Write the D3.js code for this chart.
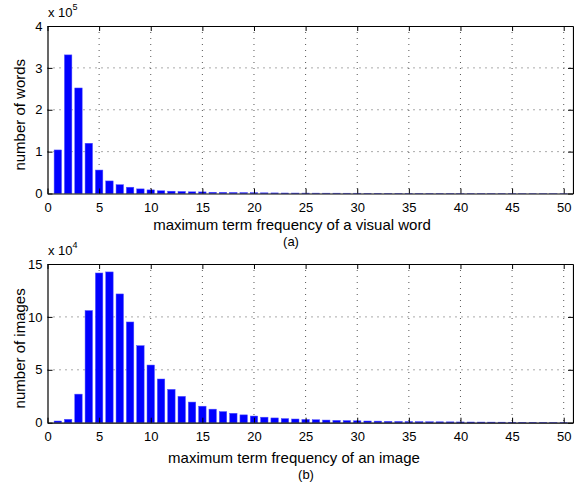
<!DOCTYPE html>
<html>
<head>
<meta charset="utf-8">
<script src="https://cdn.jsdelivr.net/npm/d3@7"></script>
<style>
  body { margin: 0; background: #fff; }
  text { font-family: "Liberation Sans", Arial, Helvetica, sans-serif; fill: #000; }
  .grid line { stroke: #555; stroke-width: 1; stroke-dasharray: 1,5; }
</style>
</head>
<body>
<div id="chart"></div>
<script>
// term frequency bins 1..50
const bins = d3.range(1, 51);

// (a) number of visual words, in units of 1e5
const wordCounts = [
    1.04, 3.31, 2.52, 1.20, 0.56, 0.30, 0.21, 0.15, 0.11, 0.086,
    0.065, 0.055, 0.048, 0.040, 0.038, 0.030, 0.028, 0.025, 0.022, 0.020,
    0.016, 0.014, 0.012, 0.011, 0.010, 0.009, 0.008, 0.008, 0.007, 0.007,
    0.006, 0.006, 0.005, 0.005, 0.005, 0.004, 0.004, 0.004, 0.004, 0.003,
    0.003, 0.003, 0.003, 0.003, 0.003, 0.002, 0.002, 0.002, 0.002, 0.002
];

// (b) number of images, in units of 1e4
const imageCounts = [
    0.16, 0.32, 2.70, 10.60, 14.15, 14.25, 12.17, 9.52, 7.28, 5.45,
    4.13, 3.15, 2.49, 1.95, 1.56, 1.28, 1.05, 0.89, 0.74, 0.63,
    0.52, 0.45, 0.39, 0.35, 0.31, 0.28, 0.25, 0.22, 0.20, 0.18,
    0.16, 0.15, 0.13, 0.12, 0.11, 0.10, 0.09, 0.085, 0.08, 0.07,
    0.065, 0.06, 0.055, 0.05, 0.045, 0.04, 0.04, 0.035, 0.03, 0.03
];

const xTicks = [0, 5, 10, 15, 20, 25, 30, 35, 40, 45, 50];
const wordTicks = [0, 1, 2, 3, 4];
const imageTicks = [0, 5, 10, 15];

const width = 574, height = 488;

let svg = d3.select("#chart").append("svg")
    .attr("width", width)
    .attr("height", height);

function drawPanel(opt) {
    let x = d3.scaleLinear().domain([0, 50.9]).range([47.5, 573]);
    let y = d3.scaleLinear().domain(opt.yDomain).range([opt.bottom, opt.top]);
    let g = svg.append("g");
    let barW = 0.72 * (x(1) - x(0));

    // dotted grid
    let grid = g.append("g").attr("class", "grid");
    grid.selectAll(".gx").data(xTicks.filter(d => d > 0))
        .enter().append("line")
        .attr("x1", d => x(d)).attr("x2", d => x(d))
        .attr("y1", opt.top).attr("y2", opt.bottom);
    grid.selectAll(".gy").data(opt.yTicks.filter(d => d > 0 && d < opt.yDomain[1]))
        .enter().append("line")
        .attr("x1", x.range()[0]).attr("x2", x.range()[1])
        .attr("y1", d => y(d)).attr("y2", d => y(d));

    // bars
    g.selectAll(".bar").data(opt.values)
        .enter().append("rect")
        .attr("class", "bar")
        .attr("x", (d, i) => x(bins[i]) - barW / 2)
        .attr("width", barW)
        .attr("y", d => y(d))
        .attr("height", d => Math.max(0, y(0) - y(d)))
        .attr("fill", "#0000ff")
        .attr("stroke", "#5050ff")
        .attr("stroke-width", 0.5);

    // axes with inward ticks on all four sides
    let xb = d3.axisBottom(x).tickValues(xTicks).tickSizeInner(-5).tickSizeOuter(0).tickPadding(9);
    let xt = d3.axisTop(x).tickValues(xTicks).tickSizeInner(-5).tickSizeOuter(0).tickFormat("");
    let yl = d3.axisLeft(y).tickValues(opt.yTicks).tickFormat(d3.format("d"))
        .tickSizeInner(-5).tickSizeOuter(0).tickPadding(5);
    let yr = d3.axisRight(y).tickValues(opt.yTicks).tickSizeInner(-5).tickSizeOuter(0).tickFormat("");

    [[xb, `translate(0,${opt.bottom})`], [xt, `translate(0,${opt.top})`],
     [yl, `translate(${x.range()[0]},0)`], [yr, `translate(${x.range()[1]},0)`]].forEach(a => {
        let ax = g.append("g").attr("transform", a[1]).call(a[0]);
        ax.select(".domain").attr("stroke", "#000").attr("stroke-width", 1.2);
        ax.selectAll(".tick line").attr("stroke", "#000");
        ax.selectAll("text").style("font-size", "13px")
            .style("font-family", '"Liberation Sans", Arial, sans-serif');
    });

    // exponent label
    let ex = g.append("text")
        .attr("x", 48).attr("y", opt.top - 9)
        .style("font-size", "13px");
    ex.append("tspan").text("x 10");
    ex.append("tspan").attr("dy", -7).style("font-size", "9px").text(opt.exponent);

    // axis labels
    g.append("text")
        .attr("x", opt.xLabelX).attr("y", opt.bottom + opt.xLabelDy)
        .attr("text-anchor", "middle")
        .style("font-size", "15px")
        .text(opt.xLabel);

    g.append("text")
        .attr("transform", `translate(25,${(opt.top + opt.bottom) / 2 + 5}) rotate(-90)`)
        .attr("text-anchor", "middle")
        .style("font-size", "15px")
        .text(opt.yLabel);

    g.append("text")
        .attr("x", opt.capX).attr("y", opt.bottom + opt.xLabelDy + 16)
        .attr("text-anchor", "middle")
        .style("font-size", "13px")
        .text(opt.caption);
}

drawPanel({
    values: wordCounts, yDomain: [0, 4], yTicks: wordTicks,
    top: 26, bottom: 193.5, exponent: "5",
    xLabel: "maximum term frequency of a visual word", xLabelX: 292, xLabelDy: 36,
    yLabel: "number of words", caption: "(a)", capX: 291
});

drawPanel({
    values: imageCounts, yDomain: [0, 15], yTicks: imageTicks,
    top: 264, bottom: 422.7, exponent: "4",
    xLabel: "maximum term frequency of an image", xLabelX: 294, xLabelDy: 40,
    yLabel: "number of images", caption: "(b)", capX: 306
});
</script>
</body>
</html>
